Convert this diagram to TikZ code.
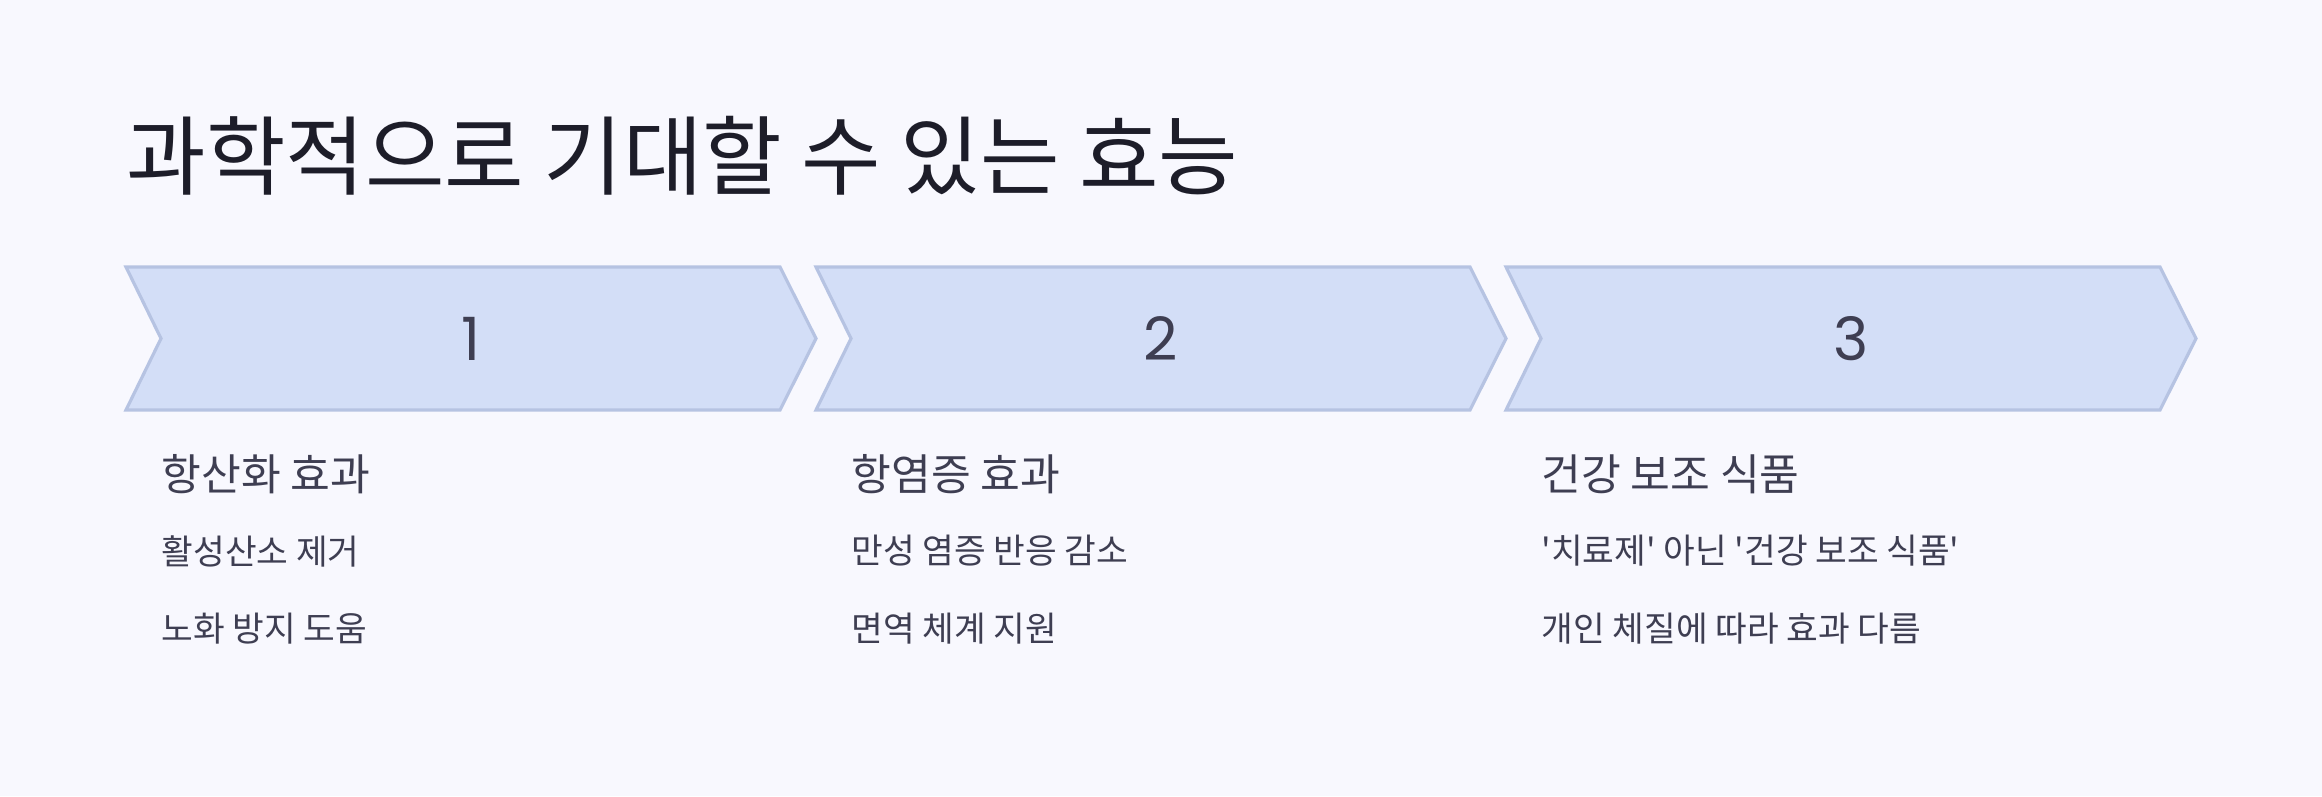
\documentclass[tikz,border=0pt]{standalone}
\usepackage{fontspec}
\setmainfont{Noto Sans CJK KR}
\newfontfamily\numfont{Poppins}
\usetikzlibrary{positioning}
\definecolor{bgcol}{HTML}{F8F8FE}
\definecolor{chevfill}{HTML}{D3DEF7}
\definecolor{chevline}{HTML}{B6C3E2}
\definecolor{titlecol}{HTML}{1D1D29}
\definecolor{textcol}{HTML}{3E3E52}
\tikzset{
    chev/.style={fill=chevfill, draw=chevline, line width=0.9pt, line join=miter},
    numlabel/.style={text=textcol, font=\numfont\fontsize{17}{20}\selectfont},
    heading/.style={anchor=west, inner sep=0pt, text=textcol, font=\fontsize{12.3}{15}\selectfont},
    itemtext/.style={anchor=west, inner sep=0pt, text=textcol, font=\fontsize{9.8}{12}\selectfont},
    bigtitle/.style={anchor=west, inner sep=0pt, text=titlecol, font=\fontsize{24.6}{30}\selectfont}
}
\newcommand{\sq}{\textquotesingle}

\begin{document}
\begin{tikzpicture}
            \fill[bgcol] (0,0) rectangle (23.22,7.96);
            \useasboundingbox (0,0) rectangle (23.22,7.96);
            \node[bigtitle] (T) at (1.26,6.40){과학적으로 기대할 수 있는 효능};
            \begin{scope}[shift={(0,0)}]
                \draw[chev] (1.26,5.29)--(7.80,5.29)--(8.16,4.575)--(7.80,3.86)--(1.26,3.86)--(1.61,4.575)--cycle;
                \node[numlabel] (N1) at (4.71,4.575){1};
                \node[heading] (H1) at (1.61,3.22){항산화 효과};
                \node[itemtext] (A1) at (1.61,2.45){활성산소 제거};
                \node[itemtext] (B1) at (1.61,1.67){노화 방지 도움};
            \end{scope}
            \begin{scope}[shift={(6.90,0)}]
                \draw[chev] (1.26,5.29)--(7.80,5.29)--(8.16,4.575)--(7.80,3.86)--(1.26,3.86)--(1.61,4.575)--cycle;
                \node[numlabel] (N2) at (4.71,4.575){2};
                \node[heading] (H2) at (1.61,3.22){항염증 효과};
                \node[itemtext] (A2) at (1.61,2.45){만성 염증 반응 감소};
                \node[itemtext] (B2) at (1.61,1.67){면역 체계 지원};
            \end{scope}
            \begin{scope}[shift={(13.80,0)}]
                \draw[chev] (1.26,5.29)--(7.80,5.29)--(8.16,4.575)--(7.80,3.86)--(1.26,3.86)--(1.61,4.575)--cycle;
                \node[numlabel] (N3) at (4.71,4.575){3};
                \node[heading] (H3) at (1.61,3.22){건강 보조 식품};
                \node[itemtext] (A3) at (1.61,2.45){\sq 치료제\sq{} 아닌 \sq 건강 보조 식품\sq};
                \node[itemtext] (B3) at (1.61,1.67){개인 체질에 따라 효과 다름};
            \end{scope}
        \end{tikzpicture}
\end{document}
